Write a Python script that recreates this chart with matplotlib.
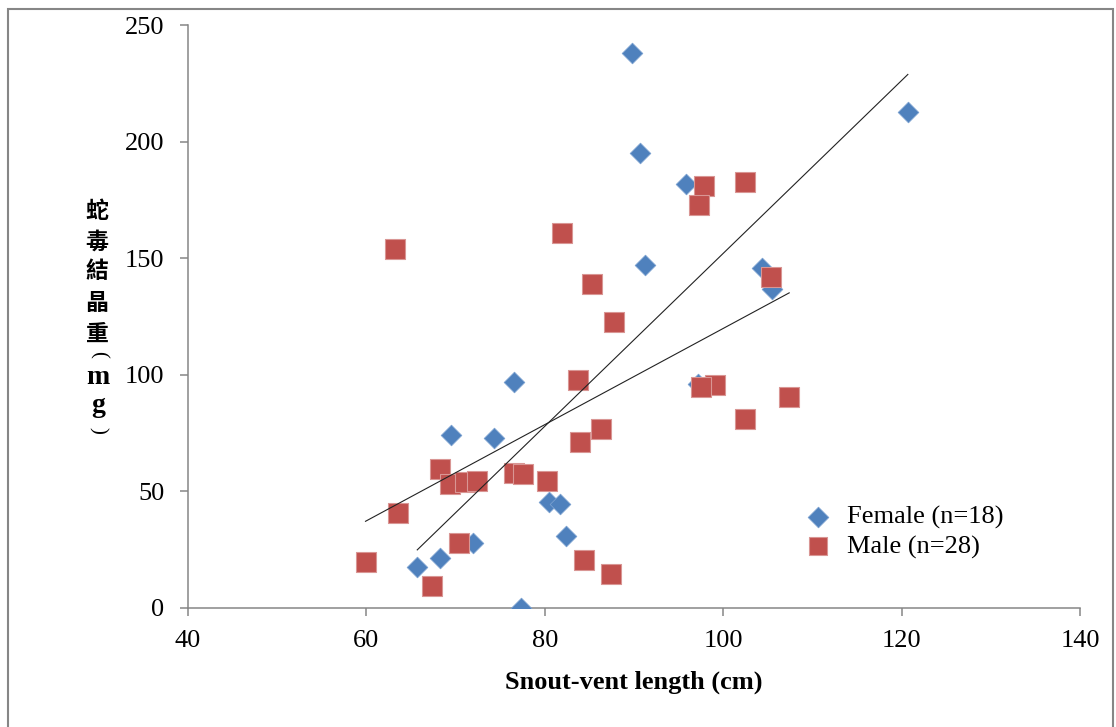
import numpy as np
import matplotlib
matplotlib.use('Agg')
import matplotlib.pyplot as plt
from matplotlib.patches import Rectangle

# datos
female_x = [89.8, 90.7, 95.8, 91.2, 120.7, 104.3, 105.5, 76.5, 97.2, 69.5,
            74.3, 80.5, 81.7, 82.4, 72.0, 68.3, 65.7, 77.3]
female_y = [238, 195, 182, 147, 212.7, 146, 137, 97, 96, 74,
            73, 45.5, 44.6, 31, 28, 21.6, 17.6, 0]

male_x = [63.2, 81.9, 85.3, 87.8, 97.8, 97.3, 102.4, 105.4, 83.7, 99.1,
          97.5, 107.4, 102.4, 86.3, 83.9, 68.3, 69.4, 71.0, 72.4, 76.5,
          77.5, 80.3, 63.5, 70.4, 59.9, 67.3, 84.4, 87.4]
male_y = [154, 161, 139, 122.6, 181, 173, 182.7, 142, 97.8, 95.6,
          94.8, 90.5, 81, 76.6, 71, 59.6, 53, 54, 54.5, 58,
          57.5, 54.5, 40.7, 28, 19.7, 9.4, 20.6, 14.6]

labels = ['Female (n=18)', 'Male (n=28)']
ylabel_chars = ['蛇', '毒', '結', '晶', '重', '(', 'm', 'g', ')']

W, H = 1116, 727
fig = plt.figure(figsize=(W / 100, H / 100), dpi=100)
ax = fig.add_axes([188 / W, 1 - 608 / H, (1080 - 188) / W, (608 - 25) / H])

serif = 'Liberation Serif'
gris = '#868686'

ax.scatter(female_x, female_y, marker='D', s=10.5 ** 2, color='#4F81BD',
           edgecolors='#7aa0d0', linewidths=0.6, label=labels[0], zorder=3)
ax.scatter(male_x, male_y, marker='s', s=15 ** 2, color='#C0504D',
           edgecolors='#d99694', linewidths=0.8, label=labels[1], zorder=4)

# lineas de tendencia (minimos cuadrados)
for xs, ys in [(female_x, female_y), (male_x, male_y)]:
    m, b = np.polyfit(xs, ys, 1)
    xx = np.array([min(xs), max(xs)])
    ax.plot(xx, m * xx + b, color='#222222', lw=0.8, zorder=5)

ax.set_xlim(40, 140)
ax.set_ylim(0, 250)
ax.set_xticks(np.arange(40, 141, 20))
ax.set_yticks(np.arange(0, 251, 50))

for s in ['top', 'right']:
    ax.spines[s].set_visible(False)
for s in ['left', 'bottom']:
    ax.spines[s].set_color(gris)
    ax.spines[s].set_linewidth(1.1)

ax.tick_params(axis='both', direction='out', length=6, width=1.1, color=gris,
               labelsize=19)
ax.tick_params(axis='x', pad=10)
ax.tick_params(axis='y', pad=11)
for t in ax.get_xticklabels() + ax.get_yticklabels():
    t.set_fontfamily(serif)

ax.set_xlabel('Snout-vent length (cm)', fontsize=19, fontweight='bold',
              fontfamily=serif, labelpad=13)

# etiqueta vertical del eje y, un caracter por linea
ypos = [212, 242, 272, 303, 334, 354, 378, 405, 430]
for ch, yp in zip(ylabel_chars, ypos):
    if ch in '()':
        fig.text(98 / W, 1 - yp / H, ch, rotation=-90, ha='center', va='center',
                 fontsize=15, family=serif)
    elif ch in 'mg':
        fig.text(98 / W, 1 - yp / H, ch, ha='center', va='center',
                 fontsize=20, fontweight='bold', family=serif)
    else:
        fig.text(97 / W, 1 - yp / H, ch, ha='center', va='center',
                 fontsize=16.5, fontweight='bold', family='Noto Sans CJK TC')

leg = ax.legend(loc='center left', bbox_to_anchor=(805 / W, 1 - 532 / H),
                bbox_transform=fig.transFigure, frameon=False, scatterpoints=1,
                handlelength=1.0, handletextpad=0.6, labelspacing=0.22,
                borderpad=0, borderaxespad=0, prop={'family': serif, 'size': 19})
leg.legend_handles[1].set_sizes([12.5 ** 2])

# borde gris del area del grafico
fig.patches.append(Rectangle((8 / W, -0.05), (1113 - 8) / W, 1.05 - 9 / H,
                             transform=fig.transFigure, fill=False,
                             edgecolor=gris, lw=1.5))

fig.savefig('out.png', dpi=100)
